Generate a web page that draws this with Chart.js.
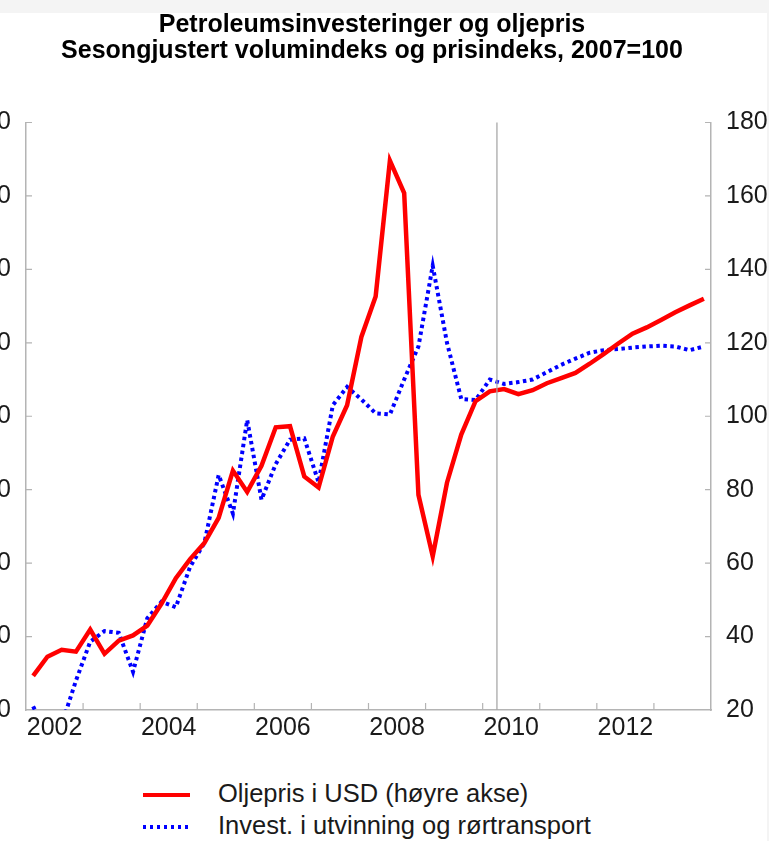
<!DOCTYPE html>
<html>
<head>
<meta charset="utf-8">
<script src="https://cdn.jsdelivr.net/npm/chart.js@4.4.1/dist/chart.umd.min.js"></script>
<style>
    html, body { margin: 0; padding: 0; }
    body {
        width: 769px; height: 841px; overflow: hidden; position: relative;
        background: #fff;
        font-family: "Liberation Sans", Arial, sans-serif;
    }
    .strip-top { position: absolute; left: 0; top: 0; width: 769px; height: 13px; background: #f4f4f4; }
    .strip-right { position: absolute; left: 767px; top: 0; width: 2px; height: 841px; background: #f4f4f4; }
    #wrap { position: absolute; left: -40px; top: 0; width: 824px; height: 750px; }
    .legend { position: absolute; left: 143px; top: 778px; }
    .legend-item { position: relative; height: 32px; }
    .legend-item .sample { position: absolute; left: 0; top: 15px; width: 47px; height: 4px; }
    .legend-item .text { position: absolute; left: 75px; top: 1px; font-size: 25.5px; color: #1a1a1a; white-space: nowrap; }
</style>
</head>
<body>
<div class="strip-top"></div>
<div class="strip-right"></div>
<div id="wrap"><canvas id="chart"></canvas></div>
<div class="legend" id="legend"></div>

<script>
// --- Data (quarterly, 2002K1 - 2013K4) ---
const START_YEAR = 2002;
const YEARS = ['2002', '2004', '2006', '2008', '2010', '2012'];

// Oljepris i USD, 2007=100 (right axis)
const oilPrice = [
    29.3, 34.5, 36.4, 35.9,
    41.9, 35.3, 38.9, 40.3,
    43.0, 49.0, 55.9, 61.1,
    65.5, 72.3, 85.2, 79.4,
    86.5, 97.0, 97.3, 83.6,
    80.6, 94.5, 103.0, 121.6,
    132.6, 169.6, 160.8, 78.6,
    61.9, 81.9, 95.0, 104.1,
    106.8, 107.4, 106.0, 107.1,
    109.0, 110.4, 111.8, 114.3,
    117.0, 119.8, 122.5, 124.2,
    126.2, 128.3, 130.2, 132.0
];

// Invest. i utvinning og rørtransport, 2007=100 (left axis)
const investment = [
    21.0, 13.0, 16.0, 28.0,
    38.6, 41.5, 41.0, 30.4,
    45.0, 49.5, 48.0, 59.0,
    65.5, 84.0, 73.5, 99.0,
    77.3, 87.0, 93.6, 94.0,
    82.0, 103.0, 108.0, 104.6,
    100.8, 100.5, 110.0, 119.0,
    141.0, 120.0, 104.7, 104.4,
    110.0, 108.8, 109.3, 110.0,
    112.0, 114.0, 115.7, 117.3,
    118.0, 118.3, 118.7, 119.0,
    119.2, 119.0, 118.0, 119.0
];

const FORECAST_LINE = 2010.25;   // vertical separator

const RED = '#ff0000';
const BLUE = '#0000ff';
const AXIS_GREY = '#b4b4b4';
const FONT = '"Liberation Sans", Arial, sans-serif';

// quarter i sits in the middle of its quarter on a linear year axis
const toPoints = values => values.map((v, i) => ({ x: START_YEAR + (i + 0.5) / 4, y: v }));

// --- Inward tick marks + vertical separator ---
const axisDecor = {
    id: 'axisDecor',
    afterDraw(chart) {
        const { ctx, chartArea: a, scales } = chart;
        ctx.save();
        ctx.strokeStyle = AXIS_GREY;
        ctx.lineWidth = 1.2;
        ctx.beginPath();
        for (let v = 40; v <= 180; v += 20) {
            const yl = scales.y.getPixelForValue(v);
            ctx.moveTo(a.left, yl); ctx.lineTo(a.left + 6, yl);
            const yr = scales.y1.getPixelForValue(v);
            ctx.moveTo(a.right - 6, yr); ctx.lineTo(a.right, yr);
        }
        for (let yr = START_YEAR + 1; yr < START_YEAR + 12; yr++) {
            const x = scales.x.getPixelForValue(yr);
            ctx.moveTo(x, a.bottom); ctx.lineTo(x, a.bottom - 7);
        }
        ctx.stroke();

        const xf = scales.x.getPixelForValue(FORECAST_LINE);
        ctx.strokeStyle = '#a8a8a8';
        ctx.lineWidth = 1.3;
        ctx.beginPath();
        ctx.moveTo(xf, a.top); ctx.lineTo(xf, a.bottom);
        ctx.stroke();
        ctx.restore();
    }
};

const yAxis = (position, width) => ({
    type: 'linear',
    position: position,
    min: 20, max: 180,
    grid: { display: false, drawTicks: false },
    border: { display: true, color: AXIS_GREY, width: 1.5 },
    ticks: {
        stepSize: 20,
        padding: 15,
        color: '#1a1a1a',
        font: { family: FONT, size: 25 }
    },
    afterFit: s => { s.width = width; }
});

const chart = new Chart(document.getElementById('chart'), {
    type: 'line',
    data: {
        datasets: [
            {
                label: 'Oljepris i USD (høyre akse)',
                data: toPoints(oilPrice),
                yAxisID: 'y1',
                borderColor: RED,
                borderWidth: 4.5,
                pointRadius: 0,
                tension: 0,
                order: 1
            },
            {
                label: 'Invest. i utvinning og rørtransport',
                data: toPoints(investment),
                yAxisID: 'y',
                borderColor: BLUE,
                borderWidth: 4,
                borderDash: [3.5, 3.5],
                pointRadius: 0,
                tension: 0,
                order: 2
            }
        ]
    },
    options: {
        responsive: true,
        maintainAspectRatio: false,
        animation: false,
        layout: { padding: 0 },
        plugins: {
            legend: { display: false },
            tooltip: { enabled: false },
            title: {
                display: true,
                text: ['Petroleumsinvesteringer og oljepris', 'Sesongjustert volumindeks og prisindeks, 2007=100'],
                color: '#000',
                font: { family: FONT, size: 25, weight: 'bold', lineHeight: 1.05 },
                padding: { top: 12, bottom: 58 }
            }
        },
        scales: {
            x: {
                type: 'linear',
                min: START_YEAR,
                max: START_YEAR + 12,
                grid: { display: false, drawTicks: false },
                border: { display: true, color: AXIS_GREY, width: 1.5 },
                afterBuildTicks: s => { s.ticks = YEARS.map(y => ({ value: Number(y) + 0.5 })); },
                ticks: {
                    padding: 3,
                    autoSkip: false,
                    maxRotation: 0,
                    color: '#1a1a1a',
                    font: { family: FONT, size: 25 },
                    callback: v => String(Math.floor(v))
                },
                afterFit: s => { s.height = 40; }
            },
            y: yAxis('left', 66),
            y1: yAxis('right', 73)
        }
    },
    plugins: [axisDecor]
});

// --- Legend (stacked, below the chart) ---
const legendEl = document.getElementById('legend');
chart.data.datasets.forEach(ds => {
    const item = document.createElement('div');
    item.className = 'legend-item';
    const sample = document.createElement('div');
    sample.className = 'sample';
    sample.style.background = ds.borderDash
        ? `repeating-linear-gradient(90deg, ${ds.borderColor} 0 3.5px, transparent 3.5px 7px)`
        : ds.borderColor;
    const text = document.createElement('div');
    text.className = 'text';
    text.textContent = ds.label;
    item.appendChild(sample);
    item.appendChild(text);
    legendEl.appendChild(item);
});
</script>
</body>
</html>
